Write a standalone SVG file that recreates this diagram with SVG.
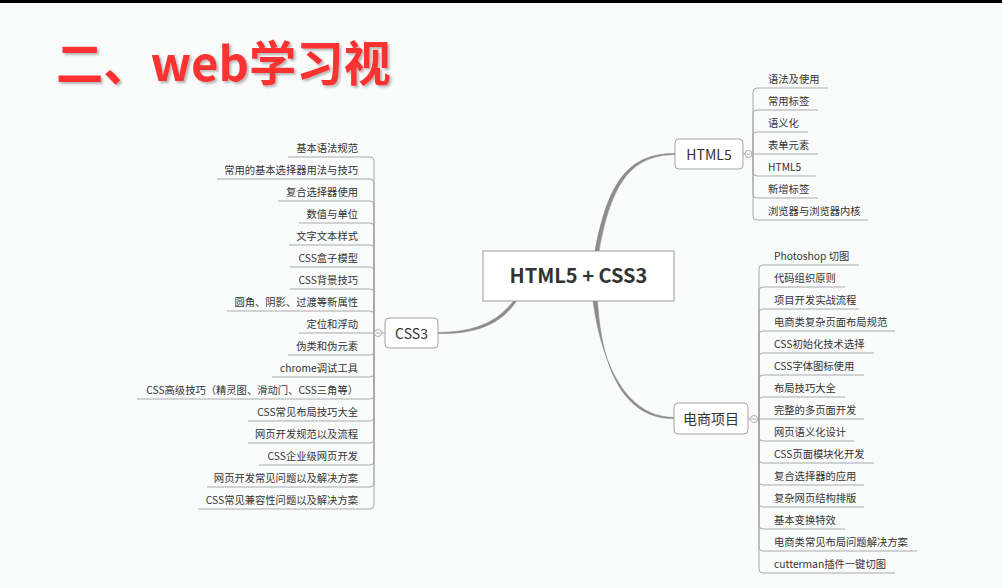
<svg xmlns="http://www.w3.org/2000/svg" width="1002" height="588" viewBox="0 0 1002 588">
<defs>
<style>
text{font-family:"Noto Sans CJK SC","Noto Sans",sans-serif;fill:#333}
.leaf{font-size:10.3px}
.l{text-anchor:end}
.node{fill:#fff;stroke:#a3a3a3;stroke-width:1}
.ntext{font-size:14px;text-anchor:middle}
.br{fill:none;stroke:#a8a8a8;stroke-width:1}
.main{fill:#8c8c8c;stroke:#8c8c8c;stroke-width:0.6}
.tog{fill:#fff;stroke:#aaa;stroke-width:1}
.title{font-size:47.3px;font-weight:700;fill:#fa3030}
</style>
<filter id="sh" x="-5%" y="-20%" width="110%" height="140%">
<feDropShadow dx="2" dy="2" stdDeviation="1.2" flood-color="#000" flood-opacity="0.28"/>
</filter>
</defs>
<rect width="1002" height="588" fill="#fafcfc"/>
<rect width="1002" height="3" fill="#000"/>
<text class="title" x="56" y="81" filter="url(#sh)">二、web学习视</text>

<g id="connectors">
<path class="main" d="M595,251 C608.5,179 630,153.4 675,153.4 L675,154.6 C631.5,155.2 611.5,182 599,251 Z"/>
<path class="main" d="M593,301 C603,372 630,417.4 674,417.4 L674,418.6 C628,419 602,376 597.5,301 Z"/>
<path class="main" d="M513.5,301 C500,318.5 480,332.4 438,332.4 L438,333.6 C481,334 502,322 516.5,301 Z"/>
<!-- CSS3 branch -->
<path class="br" d="M385,333 H381.5"/>
<path class="br" d="M374,333 V161 Q374,157 370,157 H288"/>
<path class="br" d="M374,333 V183 Q374,179 370,179 H217"/>
<path class="br" d="M374,333 V205 Q374,201 370,201 H278"/>
<path class="br" d="M374,333 V227 Q374,223 370,223 H299"/>
<path class="br" d="M374,333 V249 Q374,245 370,245 H289"/>
<path class="br" d="M374,333 V271 Q374,267 370,267 H290"/>
<path class="br" d="M374,333 V293 Q374,289 370,289 H290"/>
<path class="br" d="M374,333 V315 Q374,311 370,311 H227"/>
<path class="br" d="M374.5,333 H299"/>
<path class="br" d="M374,333 V351 Q374,355 370,355 H288"/>
<path class="br" d="M374,333 V373 Q374,377 370,377 H272"/>
<path class="br" d="M374,333 V395 Q374,399 370,399 H137"/>
<path class="br" d="M374,333 V417 Q374,421 370,421 H248"/>
<path class="br" d="M374,333 V439 Q374,443 370,443 H248"/>
<path class="br" d="M374,333 V461 Q374,465 370,465 H259"/>
<path class="br" d="M374,333 V483 Q374,487 370,487 H207"/>
<path class="br" d="M374,333 V505 Q374,509 370,509 H198"/>
<!-- HTML5 branch -->
<path class="br" d="M743,154 H745"/>
<path class="br" d="M753,154 V92 Q753,88 757,88 H828"/>
<path class="br" d="M753,154 V114 Q753,110 757,110 H818"/>
<path class="br" d="M753,154 V136 Q753,132 757,132 H808"/>
<path class="br" d="M752.5,154 H818"/>
<path class="br" d="M753,154 V172 Q753,176 757,176 H816"/>
<path class="br" d="M753,154 V194 Q753,198 757,198 H818"/>
<path class="br" d="M753,154 V216 Q753,220 757,220 H868"/>
<!-- 电商项目 branch -->
<path class="br" d="M748,419 H750"/>
<path class="br" d="M759,419 V269 Q759,265 763,265 H859"/>
<path class="br" d="M759,419 V291 Q759,287 763,287 H845"/>
<path class="br" d="M759,419 V313 Q759,309 763,309 H859"/>
<path class="br" d="M759,419 V335 Q759,331 763,331 H895"/>
<path class="br" d="M759,419 V357 Q759,353 763,353 H874"/>
<path class="br" d="M759,419 V379 Q759,375 763,375 H864"/>
<path class="br" d="M759,419 V401 Q759,397 763,397 H845"/>
<path class="br" d="M758.5,419 H864"/>
<path class="br" d="M759,419 V437 Q759,441 763,441 H854"/>
<path class="br" d="M759,419 V459 Q759,463 763,463 H874"/>
<path class="br" d="M759,419 V481 Q759,485 763,485 H864"/>
<path class="br" d="M759,419 V503 Q759,507 763,507 H864"/>
<path class="br" d="M759,419 V525 Q759,529 763,529 H845"/>
<path class="br" d="M759,419 V547 Q759,551 763,551 H917"/>
<path class="br" d="M759,419 V569 Q759,573 763,573 H895"/>
</g>

<g id="root">
<rect x="483" y="251" width="191" height="50" fill="#fff" stroke="#999" stroke-width="1"/>
<text x="578.5" y="283" font-size="20" font-weight="700" text-anchor="middle">HTML5 + CSS3</text>
</g>

<g id="html5">
<rect class="node" x="675" y="139" width="68" height="30" rx="4"/>
<text class="ntext" x="709" y="159.5">HTML5</text>
<circle class="tog" cx="748.5" cy="154" r="3.5"/>
<path d="M746.5,154 H750.5" stroke="#aaa" stroke-width="1"/>
</g>

<g id="shop">
<rect class="node" x="674" y="403" width="74" height="31" rx="4"/>
<text class="ntext" x="711" y="424">电商项目</text>
<circle class="tog" cx="754" cy="419" r="3.5"/>
<path d="M752,419 H756" stroke="#aaa" stroke-width="1"/>
</g>

<g id="css3">
<rect class="node" x="385" y="318" width="53" height="30" rx="4"/>
<text class="ntext" x="411.5" y="338.5">CSS3</text>
<circle class="tog" cx="378" cy="333" r="3.5"/>
<path d="M376,333 H380" stroke="#aaa" stroke-width="1"/>
</g>

<g id="css3-items">
<text class="leaf l" x="358" y="152">基本语法规范</text>
<text class="leaf l" x="358" y="174">常用的基本选择器用法与技巧</text>
<text class="leaf l" x="358" y="196">复合选择器使用</text>
<text class="leaf l" x="358" y="218">数值与单位</text>
<text class="leaf l" x="358" y="240">文字文本样式</text>
<text class="leaf l" x="358" y="262">CSS盒子模型</text>
<text class="leaf l" x="358" y="284">CSS背景技巧</text>
<text class="leaf l" x="358" y="306">圆角、阴影、过渡等新属性</text>
<text class="leaf l" x="358" y="328">定位和浮动</text>
<text class="leaf l" x="358" y="350">伪类和伪元素</text>
<text class="leaf l" x="358" y="372">chrome调试工具</text>
<text class="leaf l" x="358" y="394">CSS高级技巧（精灵图、滑动门、CSS三角等）</text>
<text class="leaf l" x="358" y="416">CSS常见布局技巧大全</text>
<text class="leaf l" x="358" y="438">网页开发规范以及流程</text>
<text class="leaf l" x="358" y="460">CSS企业级网页开发</text>
<text class="leaf l" x="358" y="482">网页开发常见问题以及解决方案</text>
<text class="leaf l" x="358" y="504">CSS常见兼容性问题以及解决方案</text>
</g>

<g id="html5-items">
<text class="leaf" x="768" y="83">语法及使用</text>
<text class="leaf" x="768" y="105">常用标签</text>
<text class="leaf" x="768" y="127">语义化</text>
<text class="leaf" x="768" y="149">表单元素</text>
<text class="leaf" x="768" y="171">HTML5</text>
<text class="leaf" x="768" y="193">新增标签</text>
<text class="leaf" x="768" y="215">浏览器与浏览器内核</text>
</g>

<g id="shop-items">
<text class="leaf" x="774" y="260">Photoshop 切图</text>
<text class="leaf" x="774" y="282">代码组织原则</text>
<text class="leaf" x="774" y="304">项目开发实战流程</text>
<text class="leaf" x="774" y="326">电商类复杂页面布局规范</text>
<text class="leaf" x="774" y="348">CSS初始化技术选择</text>
<text class="leaf" x="774" y="370">CSS字体图标使用</text>
<text class="leaf" x="774" y="392">布局技巧大全</text>
<text class="leaf" x="774" y="414">完整的多页面开发</text>
<text class="leaf" x="774" y="436">网页语义化设计</text>
<text class="leaf" x="774" y="458">CSS页面模块化开发</text>
<text class="leaf" x="774" y="480">复合选择器的应用</text>
<text class="leaf" x="774" y="502">复杂网页结构排版</text>
<text class="leaf" x="774" y="524">基本变换特效</text>
<text class="leaf" x="774" y="546">电商类常见布局问题解决方案</text>
<text class="leaf" x="774" y="568">cutterman插件一键切图</text>
</g>
</svg>
